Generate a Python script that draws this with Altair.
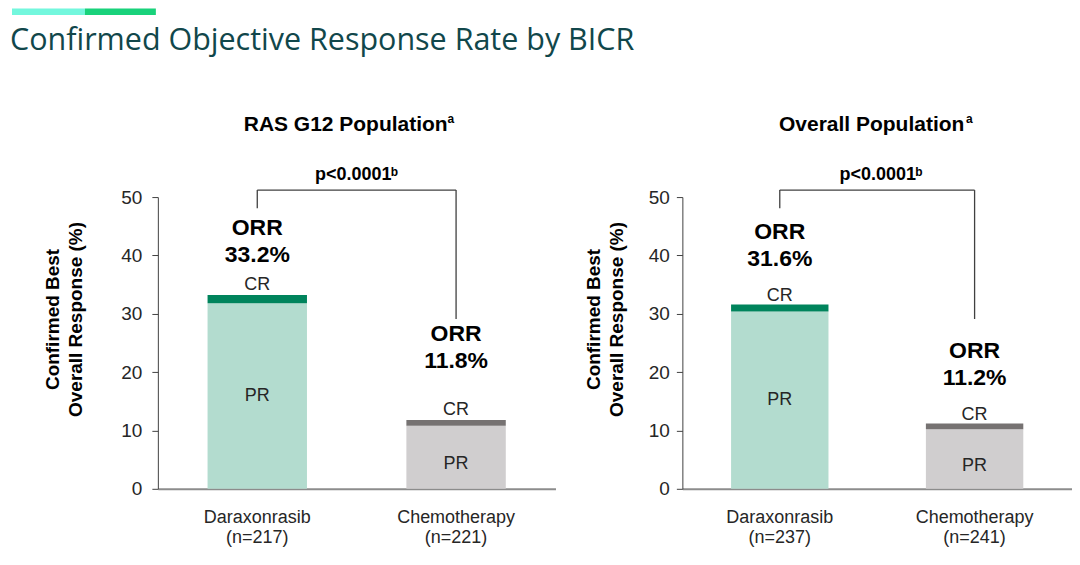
import altair as alt
import pandas as pd

# ---------------- data ----------------
arms = ["Daraxonrasib", "Chemotherapy"]

ras_n = [217, 221]
ras_pr = [31.8, 10.8]
ras_cr = [1.4, 1.0]
ras_orr = [33.2, 11.8]

all_n = [237, 241]
all_pr = [30.4, 10.2]
all_cr = [1.2, 1.0]
all_orr = [31.6, 11.2]

panel_titles = ["RAS G12 Population", "Overall Population"]
p_value_text = "p<0.0001"
bracket_top = 51.2
bracket_left_end = 48.1
bracket_right_end = 29.1
y_ticks = [0, 10, 20, 30, 40, 50]
main_title = "Confirmed Objective Response Rate by BICR"
y_title = ["Confirmed Best", "Overall Response (%)"]

# ---------------- styles ----------------
FONT = "Liberation Sans"
COLORS = {
    "Daraxonrasib|PR": "#b3dccf",
    "Daraxonrasib|CR": "#00845c",
    "Chemotherapy|PR": "#d0cecf",
    "Chemotherapy|CR": "#767272",
}
TXT = "#262626"
H = 292

STYLE_L = dict(width=398, lift=[11.5, 14.7], cr_dy=-10, ytx=-105, lpad=10,
               title_x=188, sup_x=290, p_x=195.5, b_x=233)
STYLE_R = dict(width=390, lift=[12.4, 12.4], cr_dy=-8, ytx=-88.5, lpad=7,
               title_x=189.5, sup_x=284, p_x=195.5, b_x=233)


def one():
    return pd.DataFrame({"k": [0]})


def make_panel(title, n, pr, cr, orr, st, first):
    xl = [f"{a}|(n={k})" for a, k in zip(arms, n)]
    rows = []
    for i, a in enumerate(arms):
        rows.append(dict(xl=xl[i], key=f"{a}|PR", y0=0.0, y1=pr[i]))
        rows.append(dict(xl=xl[i], key=f"{a}|CR", y0=pr[i], y1=pr[i] + cr[i]))
    bars_df = pd.DataFrame(rows)

    lab_df = pd.DataFrame({
        "xl": xl,
        "arm": arms,
        "pr_mid": [p / 2 for p in pr],
        "orr": orr,
        "orr_y": [o + l for o, l in zip(orr, st["lift"])],
        "orr_text": [f"ORR\n{v:.1f}%" for v in orr],
    })

    br_df = pd.DataFrame({
        "xl": [xl[0], xl[0], xl[1]],
        "xb": [xl[0], xl[1], xl[1]],
        "ya": [bracket_left_end, bracket_top, bracket_top],
        "yb": [bracket_top, bracket_top, bracket_right_end],
    })

    xs = alt.Scale(domain=xl, paddingInner=0.5, paddingOuter=0.25)
    ys = alt.Scale(domain=[0, 50], nice=False, zero=True)

    xaxis = alt.Axis(
        labelExpr="split(datum.value, '|')", labelAngle=0, ticks=False,
        labelPadding=20, labelFontSize=18, labelLineHeight=20, labelFont=FONT,
        labelColor=TXT, domainColor="#8c8c8c", domainWidth=2, labelBaseline="top",
    )
    yaxis = alt.Axis(
        values=y_ticks, grid=False, domainColor="#404040", tickColor="#404040",
        tickSize=6, labelFontSize=19, labelFont=FONT, labelColor=TXT, labelPadding=st["lpad"],
        title=y_title, titleFont=FONT, titleFontSize=19, titleFontWeight="bold",
        titleColor="#000000", titleLineHeight=23, titleX=st["ytx"], titleY=122,
        titleAngle=270, titleAlign="center", titleBaseline="middle",
    )

    def X(field="xl"):
        return alt.X(f"{field}:N", scale=xs, axis=xaxis, title=None)

    def Y(field):
        return alt.Y(f"{field}:Q", scale=ys, axis=yaxis)

    bars = alt.Chart(bars_df).mark_bar().encode(
        x=X(),
        y=Y("y0"),
        y2="y1:Q",
        color=alt.Color("key:N", scale=alt.Scale(domain=list(COLORS), range=list(COLORS.values())), legend=None),
    )

    pr_d = alt.Chart(lab_df).transform_filter(alt.datum.arm == arms[0]).mark_text(
        font=FONT, fontSize=18, color=TXT, baseline="middle"
    ).encode(x=X(), y=Y("pr_mid"), text=alt.value("PR"))
    pr_c = alt.Chart(lab_df).transform_filter(alt.datum.arm == arms[1]).mark_text(
        font=FONT, fontSize=18, color=TXT, baseline="middle", dy=7
    ).encode(x=X(), y=Y("pr_mid"), text=alt.value("PR"))

    cr_t = alt.Chart(lab_df).mark_text(
        font=FONT, fontSize=18, color=TXT, baseline="middle", dy=st["cr_dy"]
    ).encode(x=X(), y=Y("orr"), text=alt.value("CR"))

    orr_t = alt.Chart(lab_df).mark_text(
        font=FONT, fontSize=23, fontWeight="bold", color="#000000", baseline="middle",
        lineBreak="\n", lineHeight=27,
    ).encode(x=X(), y=Y("orr_y"), text="orr_text:N")

    bracket = alt.Chart(br_df).mark_rule(color="#404040", strokeWidth=1.3).encode(
        x=X(), x2="xb:N",
        y=Y("ya"), y2="yb:Q",
    )

    p_t = alt.Chart(one()).mark_text(
        font=FONT, fontSize=18, fontWeight="bold", color="#000000", align="center",
        baseline="alphabetic", text=p_value_text,
    ).encode(x=alt.value(st["p_x"]), y=alt.value(-16.7))
    b_t = alt.Chart(one()).mark_text(
        font=FONT, fontSize=12, fontWeight="bold", color="#000000", align="left",
        baseline="alphabetic", text="b",
    ).encode(x=alt.value(st["b_x"]), y=alt.value(-21))

    ti = alt.Chart(one()).mark_text(
        font=FONT, fontSize=21, fontWeight="bold", color="#000000", align="center",
        baseline="alphabetic", text=title,
    ).encode(x=alt.value(st["title_x"]), y=alt.value(-66))
    ti_sup = alt.Chart(one()).mark_text(
        font=FONT, fontSize=12, fontWeight="bold", color="#000000", align="left",
        baseline="alphabetic", text="a",
    ).encode(x=alt.value(st["sup_x"]), y=alt.value(-74))

    layers = [bars, pr_d, pr_c, cr_t, orr_t, bracket, p_t, b_t, ti, ti_sup]

    if first:
        deco1 = alt.Chart(one()).mark_rule(color="#73f7dd", strokeWidth=6.7).encode(
            x=alt.value(-146), x2=alt.value(-73), y=alt.value(-185.5))
        deco2 = alt.Chart(one()).mark_rule(color="#19d27b", strokeWidth=6.7).encode(
            x=alt.value(-73), x2=alt.value(-2), y=alt.value(-185.5))
        mt = alt.Chart(one()).mark_text(
            font="Open Sans", fontSize=30.5, color="#11474b", align="left",
            baseline="alphabetic", text=main_title,
        ).encode(x=alt.value(-148), y=alt.value(-147))
        layers += [deco1, deco2, mt]

    return alt.layer(*layers).properties(width=st["width"], height=H)


left = make_panel(panel_titles[0], ras_n, ras_pr, ras_cr, ras_orr, STYLE_L, True)
right = make_panel(panel_titles[1], all_n, all_pr, all_cr, all_orr, STYLE_R, False)

chart = alt.hconcat(left, right, spacing=127, bounds="flush").properties(
    padding=0, background="white"
).configure_view(stroke=None)

chart.save("out.html", embed_options={"renderer": "svg", "actions": False})
